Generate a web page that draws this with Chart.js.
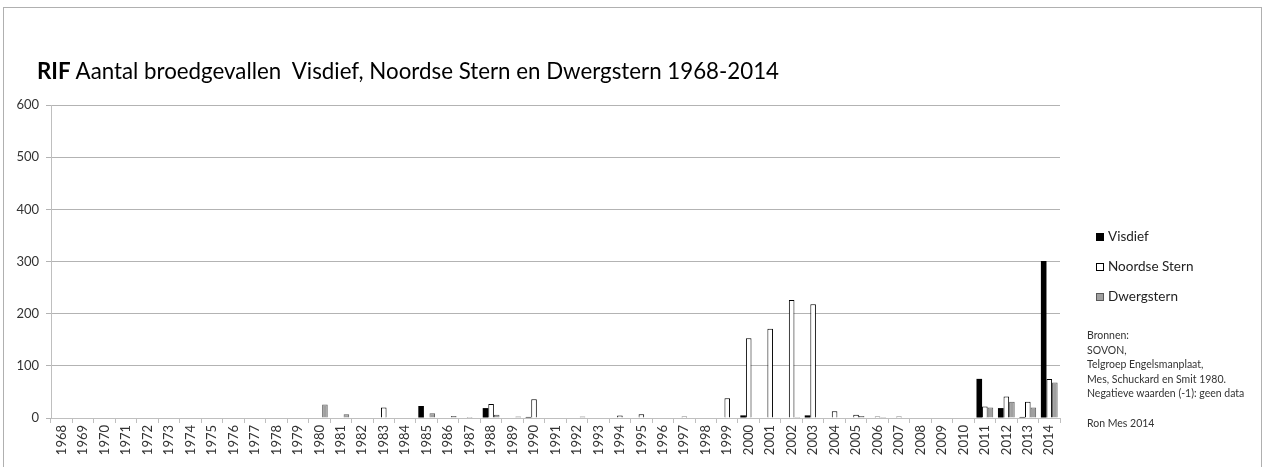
<!DOCTYPE html>
<html>
<head>
<meta charset="utf-8">
<script src="https://cdn.jsdelivr.net/npm/chart.js@4.4.0/dist/chart.umd.min.js"></script>
<style>
  html, body { margin: 0; padding: 0; background: #fff; }
  body { width: 1264px; height: 467px; position: relative; overflow: hidden; font-family: Lato, 'Open Sans', sans-serif; }
  #frame { position: absolute; left: 3px; top: 7px; width: 1259px; height: 470px; border: 1px solid #b0b0b0; box-sizing: border-box; }
  #chart { position: absolute; left: 0; top: 0; }
  #title { position: absolute; left: 37px; top: 57px; font-size: 22.3px; color: #000; white-space: pre; }
  #title b { font-weight: 700; }
  .legend { position: absolute; left: 1096px; font-size: 13.5px; color: #222; white-space: nowrap; }
  .legend i { display: inline-block; width: 8px; height: 8px; margin-right: 4px; box-sizing: border-box; vertical-align: 0px; }
  #notes { position: absolute; left: 1087px; top: 328px; font-size: 10.5px; line-height: 14.6px; color: #333; white-space: pre; }
</style>
</head>
<body>
<div id="frame"></div>
<canvas id="chart" width="1264" height="467"></canvas>
<div id="title"><b>RIF</b> Aantal broedgevallen  Visdief, Noordse Stern en Dwergstern 1968-2014</div>
<div class="legend" style="top:228px"><i style="background:#000"></i>Visdief</div>
<div class="legend" style="top:258px"><i style="background:#fff;border:1px solid #000"></i>Noordse Stern</div>
<div class="legend" style="top:288px"><i style="background:#a0a0a0;border:1px solid #595959"></i>Dwergstern</div>
<div id="notes">Bronnen:
SOVON,
Telgroep Engelsmanplaat,
Mes, Schuckard en Smit 1980.
Negatieve waarden (-1): geen data

Ron Mes 2014</div>
<script>
const YEARS = [
  '1968', '1969', '1970', '1971', '1972', '1973', '1974', '1975', '1976', '1977',
  '1978', '1979', '1980', '1981', '1982', '1983', '1984', '1985', '1986', '1987',
  '1988', '1989', '1990', '1991', '1992', '1993', '1994', '1995', '1996', '1997',
  '1998', '1999', '2000', '2001', '2002', '2003', '2004', '2005', '2006', '2007',
  '2008', '2009', '2010', '2011', '2012', '2013', '2014'
];

// 1968 .. 2014
const VISDIEF = [
  0, 0, 0, 0, 0, 0, 0, 0, 0, 0,
  0, 0, 0, 0, 0, 0, 0, 23, 0, 0,
  19, 0, 2, 0, 0, 0, 0, 0, 0, 1,
  0, 1, 5, 1, 0, 5, 0, 0, 0, 0,
  0, 0, 0, 75, 19, 2, 301
];

const NOORDSE_STERN = [
  0, 0, 0, 0, 0, 0, 0, 0, 0, 0,
  0, 0, 0, 0, 0, 20, 0, 0, 0, 2,
  27, 0, 36, 0, 0, 0, 5, 7, 0, 3,
  0, 38, 153, 171, 226, 218, 13, 6, 3, 3,
  0, 0, 0, 22, 41, 31, 75
];

const DWERGSTERN = [
  0, 0, 0, 0, 0, 0, 0, 0, 0, 0,
  0, 0, 26, 7, 0, 0, 0, 9, 4, 0,
  6, 3, 0, 0, 3, 0, 0, 0, 0, 0,
  0, 0, 0, 0, 2, 0, 0, 4, 2, 1,
  0, 0, 0, 20, 31, 20, 68
];

const Y_MAX = 600;
const Y_STEP = 100;

const AXIS_COLOR = '#bfbfbf';
const TICK_FONT = { family: 'Lato, "Open Sans", sans-serif', size: 13 };

function series(label, data, fill, border, width) {
  return {
    label,
    data,
    backgroundColor: fill,
    borderColor: border,
    borderWidth: width,
    categoryPercentage: 0.78,
    barPercentage: 1.0
  };
}

new Chart(document.getElementById('chart'), {
  type: 'bar',
  data: {
    labels: YEARS,
    datasets: [
      series('Visdief', VISDIEF, '#000000', '#000000', 0),
      series('Noordse Stern', NOORDSE_STERN, '#ffffff', '#000000', 1),
      series('Dwergstern', DWERGSTERN, '#a0a0a0', '#595959', 1)
    ]
  },
  options: {
    responsive: false,
    animation: false,
    layout: { padding: { left: 0, top: 105, right: 204, bottom: 0 } },
    plugins: {
      legend: { display: false },
      tooltip: { enabled: false }
    },
    scales: {
      x: {
        afterFit: (scale) => { scale.height = 49; },
        grid: { drawOnChartArea: false, drawTicks: true, tickLength: 5, color: AXIS_COLOR, offset: true },
        border: { display: true, color: AXIS_COLOR },
        ticks: {
          autoSkip: false,
          minRotation: 90,
          maxRotation: 90,
          padding: 2,
          color: '#333333',
          font: TICK_FONT
        }
      },
      y: {
        min: 0,
        max: Y_MAX,
        afterFit: (scale) => { scale.width = 51; },
        grid: { color: '#b3b3b3', tickLength: 5 },
        border: { display: true, color: AXIS_COLOR },
        ticks: {
          stepSize: Y_STEP,
          padding: 7,
          color: '#333333',
          font: TICK_FONT
        }
      }
    }
  }
});
</script>
</body>
</html>
